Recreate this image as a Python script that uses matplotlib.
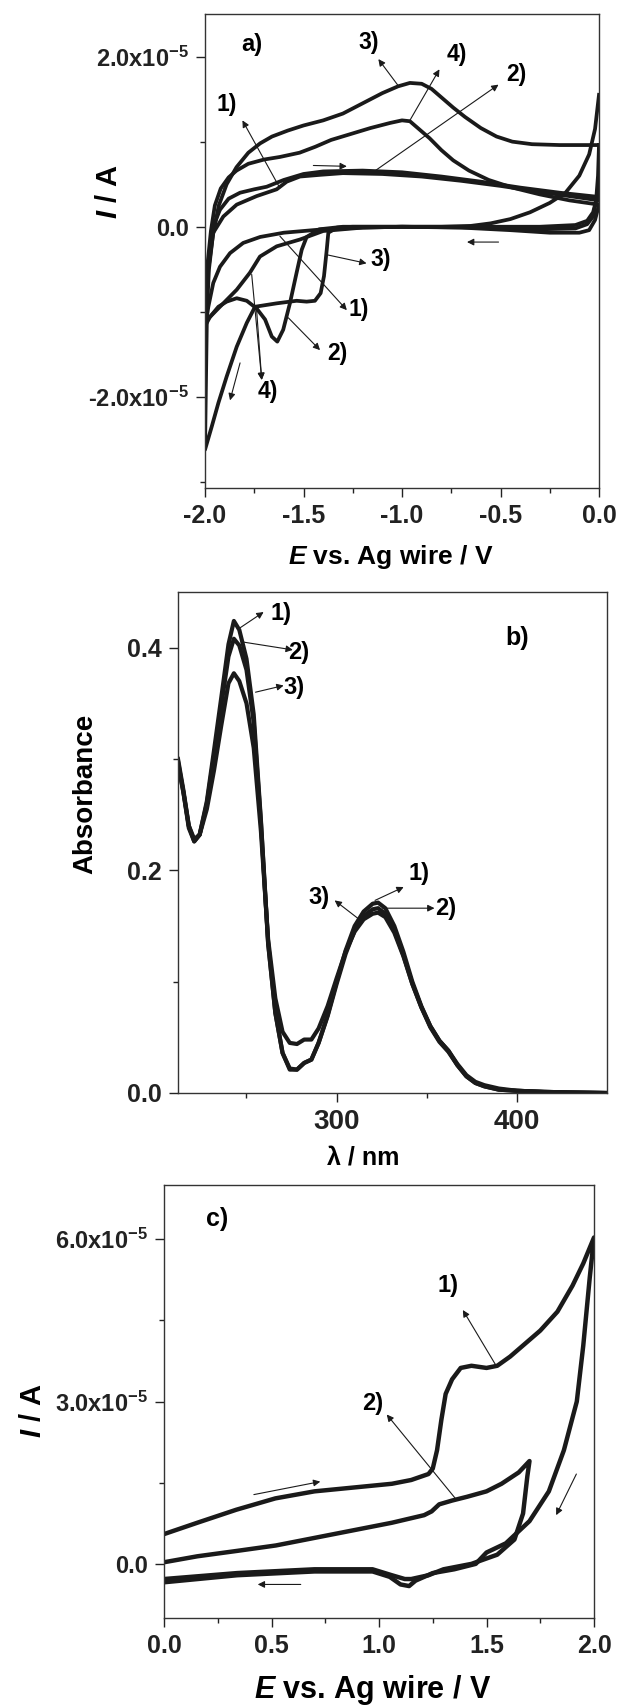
import matplotlib
matplotlib.use("Agg")
import matplotlib.pyplot as plt
from matplotlib.ticker import MultipleLocator, FixedLocator

plt.rcParams['font.family'] = ['Liberation Sans', 'DejaVu Sans']
plt.rcParams['font.weight'] = 'bold'
plt.rcParams['axes.unicode_minus'] = False
plt.rcParams['mathtext.fontset'] = 'custom'
plt.rcParams['mathtext.rm'] = 'Liberation Sans:bold'
plt.rcParams['mathtext.it'] = 'Liberation Sans:italic:bold'
plt.rcParams['mathtext.bf'] = 'Liberation Sans:bold'
plt.rcParams['mathtext.default'] = 'rm'

# ---- a) cyclic voltammograms, cathodic window (current in 1e-5 A) ----
# each cycle: sweep 0 -> -2.0 V, then back -2.0 -> 0 V
cva1_v = [0, -0.02, -0.05, -0.1, -0.17, -0.25, -0.35, -0.45, -0.55, -0.65, -0.8, -1.0, -1.2, -1.4,
          -1.6, -1.72, -1.806, -1.873, -1.924, -1.958, -1.983, -2.0,
          -1.995, -1.983, -1.958, -1.907, -1.839, -1.738, -1.636, -1.585, -1.518, -1.416, -1.3,
          -1.1, -0.9, -0.7, -0.5, -0.3, -0.15, 0]
cva1_i = [1.55, 1.15, 0.85, 0.6, 0.4, 0.28, 0.17, 0.09, 0.04, 0.01, 0.0, 0.0, -0.01, -0.03,
          -0.07, -0.12, -0.19, -0.31, -0.47, -0.66, -0.94, -1.2,
          -0.9, -0.5, -0.07, 0.12, 0.26, 0.36, 0.44, 0.53, 0.59, 0.61, 0.63,
          0.62, 0.59, 0.54, 0.48, 0.41, 0.36, 0.31]

cva2_v = [0, -0.01, -0.03, -0.06, -0.12, -0.3, -0.6, -1.0, -1.3, -1.42, -1.484, -1.509, -1.535,
          -1.569, -1.603, -1.633, -1.661, -1.695, -1.738, -1.788, -1.839, -1.89, -1.932, -1.975, -2.0,
          -1.99, -1.97, -1.95, -1.924, -1.88, -1.822, -1.75, -1.687, -1.6, -1.5, -1.4, -1.2, -1.0,
          -0.8, -0.6, -0.4, -0.2, 0]
cva2_i = [0.58, 0.35, 0.17, 0.07, 0.02, 0.0, 0.0, 0.0, 0.0, -0.03, -0.12, -0.27, -0.54,
          -0.9, -1.21, -1.35, -1.29, -1.09, -0.96, -0.87, -0.84, -0.88, -0.94, -1.06, -1.17,
          -0.6, -0.15, 0.05, 0.2, 0.33, 0.4, 0.44, 0.47, 0.55, 0.62, 0.65, 0.66, 0.64,
          0.59, 0.53, 0.46, 0.4, 0.35]

cva3_v = [0, -0.005, -0.015, -0.03, -0.06, -0.12, -0.3, -0.6, -1.0, -1.25, -1.33, -1.374, -1.382,
          -1.396, -1.413, -1.442, -1.484, -1.535, -1.636, -1.746, -1.788, -1.839, -1.89, -1.932,
          -1.966, -2.0,
          -1.995, -1.99, -1.98, -1.96, -1.93, -1.89, -1.84, -1.78, -1.72, -1.66, -1.58, -1.5, -1.4,
          -1.3, -1.2, -1.1, -1.02, -0.96, -0.9, -0.85, -0.8, -0.74, -0.68, -0.6, -0.52, -0.44,
          -0.34, -0.2, 0]
cva3_i = [0.96, 0.6, 0.3, 0.12, 0.03, -0.02, -0.03, -0.01, 0.0, 0.0, -0.01, -0.07, -0.27,
          -0.58, -0.78, -0.87, -0.88, -0.87, -0.9, -0.94, -1.13, -1.41, -1.76, -2.07,
          -2.35, -2.62,
          -1.8, -1.0, -0.5, -0.1, 0.25, 0.5, 0.7, 0.87, 0.98, 1.06, 1.13, 1.19, 1.25,
          1.33, 1.45, 1.57, 1.65, 1.69, 1.68, 1.62, 1.52, 1.4, 1.29, 1.16, 1.06, 1.0,
          0.97, 0.96, 0.96]

cva4_v = [0, -0.02, -0.05, -0.1, -0.25, -0.45, -0.7, -1.0, -1.2, -1.4, -1.518, -1.636, -1.721,
          -1.772, -1.839, -1.907, -1.958, -2.0,
          -1.99, -1.97, -1.95, -1.92, -1.88, -1.84, -1.78, -1.7, -1.62, -1.52, -1.44, -1.36,
          -1.26, -1.16, -1.06, -1.0, -0.96, -0.92, -0.86, -0.8, -0.74, -0.66, -0.56, -0.44,
          -0.3, -0.15, 0]
cva4_i = [0.26, 0.08, -0.04, -0.07, -0.07, -0.04, -0.01, 0.0, -0.01, -0.05, -0.15, -0.23, -0.35,
          -0.54, -0.74, -0.9, -1.02, -1.12,
          -0.5, -0.05, 0.25, 0.45, 0.58, 0.66, 0.74, 0.79, 0.82, 0.87, 0.94, 1.02,
          1.09, 1.16, 1.22, 1.25, 1.24, 1.16, 1.04, 0.9, 0.78, 0.66, 0.55, 0.46,
          0.38, 0.31, 0.26]

# ---- b) UV-vis spectra ----
wl = [212, 215, 218, 221, 224, 228, 232, 236, 240, 243, 246, 250, 254, 258, 262, 266, 270, 274,
      278, 282, 286, 290, 295, 300, 305, 310, 315, 320, 323, 327, 332, 337, 342, 347, 352, 357,
      362, 367, 372, 377, 382, 390, 400, 415, 430, 450]
abs1 = [0.300, 0.272, 0.240, 0.226, 0.232, 0.262, 0.308, 0.355, 0.403, 0.424, 0.416, 0.390,
        0.340, 0.245, 0.135, 0.072, 0.036, 0.021, 0.021, 0.027, 0.030, 0.045, 0.070, 0.100,
        0.128, 0.150, 0.163, 0.170, 0.171, 0.166, 0.150, 0.127, 0.100, 0.078, 0.060, 0.047,
        0.038, 0.025, 0.015, 0.009, 0.006, 0.003, 0.002, 0.001, 0.0005, 0.0]
abs2 = [0.298, 0.270, 0.238, 0.226, 0.232, 0.260, 0.303, 0.348, 0.392, 0.408, 0.402, 0.380,
        0.333, 0.243, 0.134, 0.072, 0.036, 0.022, 0.021, 0.027, 0.030, 0.045, 0.069, 0.098,
        0.125, 0.146, 0.159, 0.165, 0.166, 0.161, 0.146, 0.124, 0.098, 0.077, 0.059, 0.046,
        0.037, 0.025, 0.015, 0.009, 0.006, 0.003, 0.002, 0.001, 0.0005, 0.0]
abs3 = [0.295, 0.270, 0.240, 0.228, 0.232, 0.255, 0.290, 0.330, 0.368, 0.377, 0.370, 0.350,
        0.310, 0.235, 0.138, 0.085, 0.055, 0.045, 0.044, 0.048, 0.048, 0.058, 0.078, 0.103,
        0.127, 0.145, 0.156, 0.161, 0.162, 0.158, 0.144, 0.123, 0.098, 0.077, 0.060, 0.047,
        0.038, 0.026, 0.016, 0.010, 0.007, 0.004, 0.002, 0.001, 0.0005, 0.0]

# ---- c) cyclic voltammograms, anodic window (current in 1e-5 A) ----
cvc1_v = [0, 0.155, 0.336, 0.518, 0.7, 0.88, 1.06, 1.15, 1.23, 1.25, 1.27, 1.29, 1.31, 1.34,
          1.38, 1.43, 1.5, 1.55, 1.61, 1.68, 1.75, 1.83, 1.9, 1.95, 2.0,
          1.98, 1.95, 1.92, 1.86, 1.79, 1.7, 1.59, 1.5, 1.45, 1.35, 1.25, 1.17, 1.14, 1.1, 1.05,
          0.97, 0.7, 0.34, 0]
cvc1_i = [0.55, 0.76, 1.0, 1.21, 1.34, 1.41, 1.48, 1.55, 1.66, 1.76, 2.1, 2.66, 3.14, 3.41,
          3.62, 3.66, 3.62, 3.66, 3.83, 4.07, 4.31, 4.66, 5.14, 5.55, 6.03,
          5.28, 4.03, 3.0, 2.1, 1.34, 0.79, 0.38, 0.21, 0.0, -0.1, -0.17, -0.31, -0.41, -0.38, -0.24,
          -0.14, -0.14, -0.21, -0.34]

cvc2_v = [0, 0.155, 0.34, 0.52, 0.7, 0.88, 1.06, 1.21, 1.245, 1.28, 1.34, 1.41, 1.5, 1.57, 1.65,
          1.7, 1.69, 1.67, 1.63, 1.55, 1.43, 1.3, 1.23, 1.15, 1.12, 1.06, 0.97, 0.7, 0.34, 0]
cvc2_i = [0.03, 0.14, 0.24, 0.34, 0.48, 0.62, 0.76, 0.9, 0.97, 1.1, 1.17, 1.24, 1.34, 1.48, 1.69,
          1.9, 1.62, 0.93, 0.45, 0.17, 0.0, -0.1, -0.21, -0.28, -0.28, -0.21, -0.1, -0.1, -0.17, -0.28]

INK = '#1a1a1a'
BOLD = dict(fontweight='bold')


def style_axes(ax):
    for s in ax.spines.values():
        s.set_linewidth(1.0)
        s.set_color('#333333')
    ax.tick_params(which='both', direction='out', top=False, right=False, width=1.0,
                   pad=5, colors='#222222')
    ax.tick_params(which='major', length=6.5)
    ax.tick_params(which='minor', length=3.5)


def arrow(ax, tail, head):
    ax.annotate('', xy=head, xytext=tail,
                arrowprops=dict(arrowstyle='-|>', lw=0.8, color=INK, mutation_scale=10,
                                shrinkA=0, shrinkB=0))


def tag(ax, x, y, text, size=16.5):
    ax.text(x, y, text, fontsize=size, ha='center', va='center', **BOLD)


fig = plt.figure(figsize=(6.17, 17.05), dpi=100)

# ----- panel a -----
ax = fig.add_axes([205 / 617, 1 - 488 / 1705, 394 / 617, 474 / 1705])
for v, i in [(cva1_v, cva1_i), (cva2_v, cva2_i), (cva3_v, cva3_i), (cva4_v, cva4_i)]:
    ax.plot(v, i, color=INK, lw=2.7, solid_joinstyle='round')
ax.set_xlim(-2.0, 0.0)
ax.set_ylim(-3.07, 2.5)
ax.set_xticks([-2.0, -1.5, -1.0, -0.5, 0.0], labels=['-2.0', '-1.5', '-1.0', '-0.5', '0.0'],
              fontsize=18, **BOLD)
ax.xaxis.set_minor_locator(MultipleLocator(0.25))
ax.set_yticks([-2, 0, 2], labels=[r'-2.0x10$^{-5}$', '0.0', r'2.0x10$^{-5}$'],
              fontsize=17, **BOLD)
ax.yaxis.set_minor_locator(MultipleLocator(1))
style_axes(ax)
ax.set_xlabel(r'$\mathit{E}$ vs. Ag wire / V', fontsize=19, va='center', ha='center', **BOLD)
ax.xaxis.set_label_coords(0.472, -0.146)
ax.set_ylabel(r'$\mathit{I}$ / A', fontsize=21, va='center', ha='center', **BOLD)
ax.yaxis.set_label_coords(-0.244, 0.625)

tag(ax, -1.76, 2.14, 'a)', 17)
labels_a = [('3)', (-1.17, 2.17), (-1.02, 1.66), (-1.12, 1.97)),
            ('4)', (-0.72, 2.02), (-0.96, 1.25), (-0.81, 1.85)),
            ('2)', (-0.42, 1.79), (-1.16, 0.62), (-0.51, 1.67)),
            ('1)', (-1.89, 1.44), (-1.62, 0.455), (-1.81, 1.25)),
            ('1)', (-1.22, -0.97), (-1.62, -0.11), (-1.28, -0.98)),
            ('3)', (-1.11, -0.39), (-1.38, -0.33), (-1.18, -0.43)),
            ('2)', (-1.33, -1.49), (-1.577, -1.07), (-1.416, -1.45)),
            ('4)', (-1.68, -1.94), (-1.763, -0.56), (-1.712, -1.8))]
for text, pos, tail, head in labels_a:
    tag(ax, pos[0], pos[1], text)
    arrow(ax, tail, head)
arrow(ax, (-1.738, -0.98), (-1.712, -1.8))
arrow(ax, (-1.45, 0.72), (-1.28, 0.71))
arrow(ax, (-0.51, -0.18), (-0.67, -0.18))
arrow(ax, (-1.822, -1.6), (-1.873, -2.04))

# ----- panel b -----
ax = fig.add_axes([178 / 617, 1 - 1093 / 1705, 429 / 617, 501 / 1705])
for a in (abs1, abs2, abs3):
    ax.plot(wl, a, color=INK, lw=3.0, solid_joinstyle='round')
ax.set_xlim(212, 450)
ax.set_ylim(0.0, 0.45)
ax.set_xticks([300, 400], labels=['300', '400'], fontsize=20, **BOLD)
ax.xaxis.set_minor_locator(FixedLocator([250, 350]))
ax.set_yticks([0.0, 0.2, 0.4], labels=['0.0', '0.2', '0.4'], fontsize=18, **BOLD)
ax.yaxis.set_minor_locator(FixedLocator([0.1, 0.3]))
style_axes(ax)
ax.set_xlabel('λ / nm', fontsize=18, va='center', ha='center', **BOLD)
ax.xaxis.set_label_coords(0.431, -0.128)
ax.set_ylabel('Absorbance', fontsize=20, va='center', ha='center', **BOLD)
ax.yaxis.set_label_coords(-0.217, 0.597)

tag(ax, 400, 0.409, 'b)', 18)
labels_b = [('1)', (269, 0.431), (246.6, 0.418), (259.5, 0.432)),
            ('2)', (279, 0.396), (248.3, 0.405), (275.7, 0.398)),
            ('3)', (276.2, 0.364), (255, 0.360), (270.6, 0.366)),
            ('1)', (345.7, 0.197), (321.3, 0.173), (337.2, 0.185)),
            ('2)', (360.6, 0.166), (325.5, 0.166), (354.3, 0.166)),
            ('3)', (290.4, 0.176), (311.7, 0.157), (298.9, 0.173))]
for text, pos, tail, head in labels_b:
    tag(ax, pos[0], pos[1], text, 17)
    arrow(ax, tail, head)

# ----- panel c -----
ax = fig.add_axes([164 / 617, 1 - 1618 / 1705, 430 / 617, 433 / 1705])
for v, i in [(cvc1_v, cvc1_i), (cvc2_v, cvc2_i)]:
    ax.plot(v, i, color=INK, lw=3.2, solid_joinstyle='round')
ax.set_xlim(0.0, 2.0)
ax.set_ylim(-1.0, 7.0)
ax.set_xticks([0.0, 0.5, 1.0, 1.5, 2.0], labels=['0.0', '0.5', '1.0', '1.5', '2.0'],
              fontsize=18, **BOLD)
ax.xaxis.set_minor_locator(MultipleLocator(0.25))
ax.set_yticks([0, 3, 6], labels=['0.0', r'3.0x10$^{-5}$', r'6.0x10$^{-5}$'], fontsize=17, **BOLD)
ax.yaxis.set_minor_locator(MultipleLocator(1.5))
style_axes(ax)
ax.set_xlabel(r'$\mathit{E}$ vs. Ag wire / V', fontsize=22, va='center', ha='center', **BOLD)
ax.xaxis.set_label_coords(0.486, -0.166)
ax.set_ylabel(r'$\mathit{I}$ / A', fontsize=21, va='center', ha='center', **BOLD)
ax.yaxis.set_label_coords(-0.305, 0.478)

tag(ax, 0.247, 6.38, 'c)', 18)
tag(ax, 1.32, 5.14, '1)', 17)
arrow(ax, (1.545, 3.66), (1.39, 4.69))
tag(ax, 0.97, 2.97, '2)', 17)
arrow(ax, (1.355, 1.21), (1.036, 2.76))
arrow(ax, (0.418, 1.28), (0.727, 1.52))
arrow(ax, (0.636, -0.38), (0.436, -0.38))
arrow(ax, (1.918, 1.66), (1.824, 0.9))

fig.savefig('out.png', dpi=100)
